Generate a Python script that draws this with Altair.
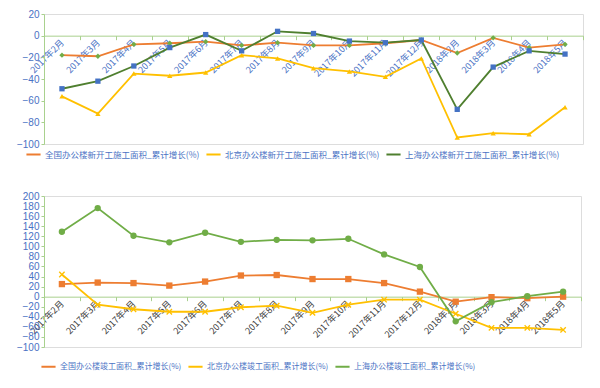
import altair as alt
import pandas as pd

months = ["2017年2月", "2017年3月", "2017年4月", "2017年5月", "2017年6月", "2017年7月",
          "2017年8月", "2017年9月", "2017年10月", "2017年11月", "2017年12月",
          "2018年2月", "2018年3月", "2018年4月", "2018年5月"]

top_series = ["全国办公楼新开工施工面积_累计增长(%)",
              "北京办公楼新开工施工面积_累计增长(%)",
              "上海办公楼新开工施工面积_累计增长(%)"]
top_national = [-18, -19, -8, -7, -5.5, -9, -6.5, -9, -9, -7, -4, -16, -2, -11, -8]
top_beijing = [-56, -72, -35, -37, -34, -18, -21, -30, -33, -38, -21, -94, -90, -91, -66]
top_shanghai = [-49, -42, -28, -11, 1, -14, 4, 2, -5, -6.5, -4, -68, -29, -14, -17]

bot_series = ["全国办公楼竣工面积_累计增长(%)",
              "北京办公楼竣工面积_累计增长(%)",
              "上海办公楼竣工面积_累计增长(%)"]
bot_national = [25, 28, 27, 22, 30, 42, 43, 35, 35, 27, 10, -10, -1, -3, 0]
bot_beijing = [44, -16, -25, -30, -30, -21, -18, -32, -16, -6, -6, -34, -62, -62, -66]
bot_shanghai = [129, 176, 121, 108, 127, 109, 113, 112, 115, 84, 59, -49, -11, 1, 10]

ORANGE = "#ED7D31"
GOLD = "#FFC000"
GREEN = "#70AD47"
DKGREEN = "#4F7F2F"
BLUE = "#4472C4"
AXIS_GREEN = "#A9D18E"
LABEL_BLUE = "#4A72C4"
CJK = "Noto Sans CJK SC"

X_SHAPE = "M-1,-0.7L-0.7,-1L0,-0.3L0.7,-1L1,-0.7L0.3,0L1,0.7L0.7,1L0,0.3L-0.7,1L-1,0.7L-0.3,0Z"


def panel(series, values, line_colors, marker_colors, shapes, marker_size,
          ymin, ymax, width, height, xlabel_color, legend_x, legend_y, legend_font):
    rows = []
    for s, vals in zip(series, values):
        for m, v in zip(months, vals):
            rows.append({"month": m, "value": v, "series": s})
    df = pd.DataFrame(rows)
    zero_offset = -(height - height * ymax / (ymax - ymin))
    x = alt.X("month:N", sort=months,
              scale=alt.Scale(type="band", paddingInner=0, paddingOuter=0),
              axis=alt.Axis(title=None, offset=zero_offset, labelAngle=-45,
                            labelAlign="right", labelBaseline="middle",
                            labelColor=xlabel_color, labelFont=CJK, labelFontSize=9,
                            labelPadding=1, domainColor=AXIS_GREEN, tickColor=AXIS_GREEN,
                            tickSize=4, tickBand="extent", labelOverlap=False))
    y = alt.Y("value:Q",
              scale=alt.Scale(domain=[ymin, ymax], nice=False, zero=False),
              axis=alt.Axis(title=None, values=list(range(ymin, ymax + 1, 20)), grid=False,
                            domainColor=AXIS_GREEN, tickColor=AXIS_GREEN, tickSize=3,
                            labelColor=LABEL_BLUE, labelFont="Liberation Sans",
                            labelFontSize=10, labelPadding=2))
    base = alt.Chart(df).encode(x=x, y=y)
    lines = base.mark_line(strokeWidth=1.8).encode(
        stroke=alt.Stroke("series:N", sort=series,
                          scale=alt.Scale(domain=series, range=line_colors),
                          legend=alt.Legend(title=None, orient="none", direction="horizontal",
                                            legendX=legend_x, legendY=legend_y,
                                            labelColor=LABEL_BLUE,
                                            labelFont=CJK, labelFontSize=legend_font, labelLimit=0,
                                            symbolType="stroke", symbolStrokeWidth=2,
                                            symbolSize=200, columnPadding=2, labelOffset=3))
    )
    points = base.mark_point(filled=True, opacity=1, size=marker_size, strokeWidth=0).encode(
        fill=alt.Fill("series:N", scale=alt.Scale(domain=series, range=marker_colors), legend=None),
        shape=alt.Shape("series:N", scale=alt.Scale(domain=series, range=shapes), legend=None),
    )
    return alt.layer(lines, points).resolve_scale(fill="independent", shape="independent").properties(
        width=width, height=height)


top = panel(top_series, [top_national, top_beijing, top_shanghai],
            [ORANGE, GOLD, DKGREEN], [GREEN, GOLD, BLUE],
            ["diamond", "triangle-up", "square"], 28,
            -100, 20, 539, 130, LABEL_BLUE, -19, 132, 8.5)
bottom = panel(bot_series, [bot_national, bot_beijing, bot_shanghai],
               [ORANGE, GOLD, GREEN], [ORANGE, GOLD, GREEN],
               ["square", X_SHAPE, "circle"], 40,
               -100, 200, 537, 151, "#404040", -4, 162, 8)

chart = alt.vconcat(top, bottom, spacing=30).resolve_scale(
    stroke="independent", fill="independent", shape="independent"
).resolve_legend(stroke="independent").properties(
    padding={"left": 7, "top": 0, "right": 5, "bottom": 0}
).configure_view(stroke=None).configure(background="white")

chart.save("out.html", embed_options={"renderer": "svg", "actions": False})
